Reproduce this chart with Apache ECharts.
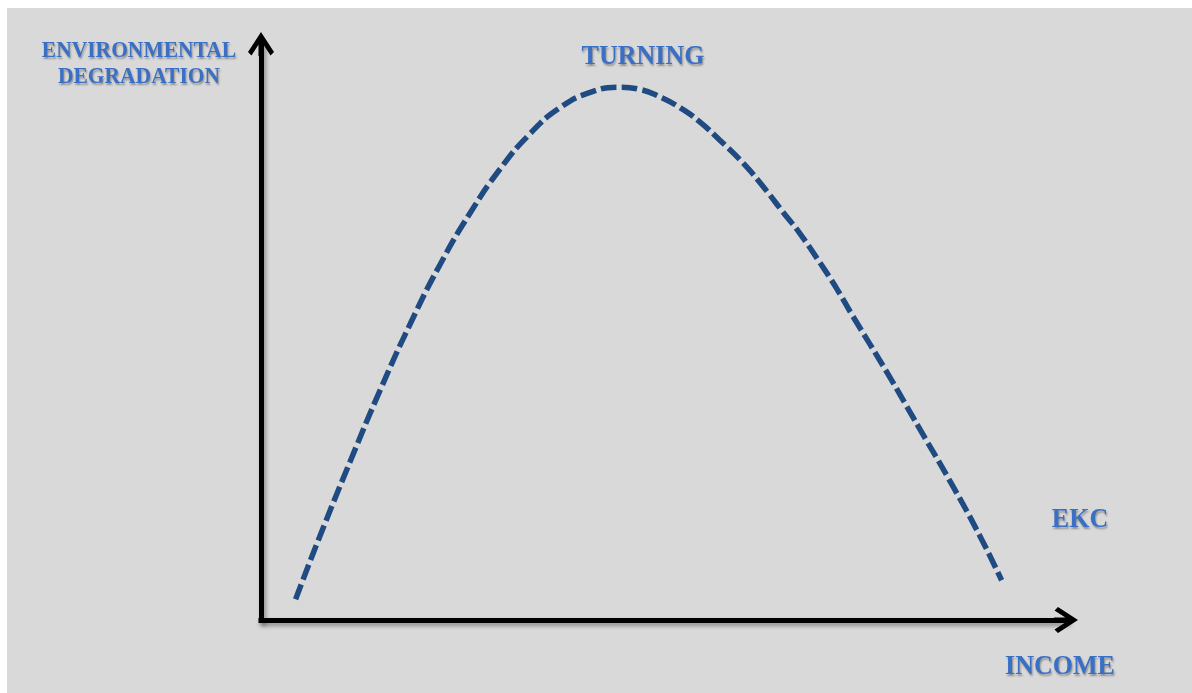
<!DOCTYPE html>
<html>
<head>
<meta charset="utf-8">
<script src="https://cdn.jsdelivr.net/npm/echarts@6/dist/echarts.min.js"></script>
<style>
html,body{margin:0;padding:0;background:#ffffff;}
#chart{width:1192px;height:693px;}
</style>
</head>
<body>
<div id="chart"></div>
<script>
// Environmental Kuznets Curve (arbitrary units)
const income = [4.3, 7.3, 11.1, 14.8, 18.5, 22.2, 26.0, 29.7, 33.4, 37.1, 40.9, 44.6, 47.1, 49.6, 52.1, 54.5, 57.0, 59.9, 62.4, 64.8, 67.0, 69.4, 71.4, 73.5, 77.8, 81.9, 86.0, 89.3, 92.0];
const degradation = [3.6, 14.5, 27.6, 39.9, 51.3, 61.6, 70.7, 78.3, 84.4, 88.9, 91.6, 92.5, 92.1, 90.8, 88.9, 86.5, 83.3, 79.3, 75.2, 70.9, 67.0, 62.1, 57.8, 52.8, 42.9, 33.0, 23.1, 14.6, 6.9];
const yAxisTitle = 'ENVIRONMENTAL\nDEGRADATION';
const xAxisTitle = 'INCOME';
const peakLabel = 'TURNING';
const curveLabel = 'EKC';

const points = income.map((x, i) => [x, degradation[i]]);

const arrowPath = 'path://M14,0 L27,20 L23.5,23.5 L16.5,12.7 L16.5,24 L11.5,24 L11.5,12.7 L4.5,23.5 L1,20 Z';
const axisLineStyle = {
  color: '#000000',
  width: 5,
  cap: 'square',
  shadowColor: 'rgba(0,0,0,0.35)',
  shadowBlur: 4,
  shadowOffsetX: 2,
  shadowOffsetY: 3
};
function label(text, size, x, y, sy) {
  return {
    type: 'text', x: x, y: y, z: 10, silent: true, scaleY: sy || 1,
    style: {
      text: text,
      fontFamily: '"Liberation Serif", "Times New Roman", serif',
      fontWeight: 'bold',
      fontSize: size,
      fill: '#3a6fc6',
      align: 'center',
      verticalAlign: 'middle',
      lineHeight: 23,
      textShadowColor: 'rgba(0,0,0,0.35)',
      textShadowBlur: 2,
      textShadowOffsetX: 1,
      textShadowOffsetY: 2
    }
  };
}

const chart = echarts.init(document.getElementById('chart'), null, {renderer: 'canvas'});
chart.setOption({
  animation: false,
  backgroundColor: '#ffffff',
  grid: {left: 261, right: 126, top: 44, bottom: 73, containLabel: false},
  xAxis: {
    type: 'value', min: 0, max: 100,
    axisLine: {show: true, symbol: ['none', arrowPath], symbolSize: [28, 24], lineStyle: axisLineStyle},
    axisTick: {show: false}, axisLabel: {show: false}, splitLine: {show: false}
  },
  yAxis: {
    type: 'value', min: 0, max: 100,
    axisLine: {show: true, symbol: ['none', arrowPath], symbolSize: [28, 24], lineStyle: axisLineStyle},
    axisTick: {show: false}, axisLabel: {show: false}, splitLine: {show: false}
  },
  series: [{
    type: 'line',
    data: points,
    showSymbol: false,
    smooth: 0.5,
    lineStyle: {color: '#1f4b82', width: 5.5, type: [16, 5], cap: 'butt'},
    z: 3
  }],
  graphic: [
    {type: 'rect', left: 7, top: 8, z: -100, silent: true, shape: {width: 1185, height: 685}, style: {fill: '#d9d9d9'}},
    label(yAxisTitle, 21.5, 139, 64, 1.12),
    label(peakLabel, 26, 643, 57, 1.05),
    label(curveLabel, 26, 1080, 520, 1.08),
    label(xAxisTitle, 26, 1060, 667, 1.08)
  ]
});
</script>
</body>
</html>
